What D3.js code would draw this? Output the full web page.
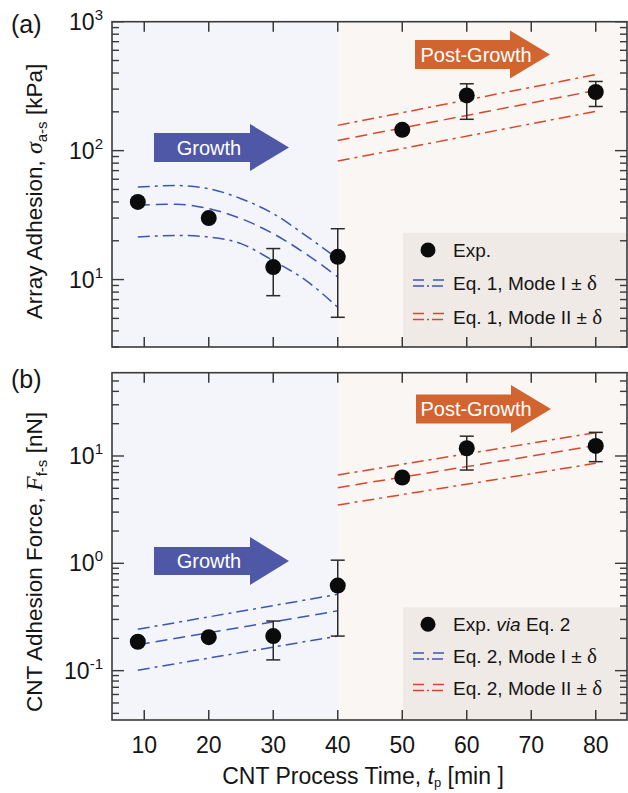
<!DOCTYPE html>
<html>
<head>
<meta charset="utf-8"/>
<script src="https://cdn.jsdelivr.net/npm/d3@7"></script>
<title>CNT adhesion vs process time</title>
<style type="text/css">
	body { margin: 0; background-color: white; }
	text { font-family: "Liberation Sans", Arial, Helvetica, sans-serif; fill: #151515; }
	.serif { font-family: "Liberation Serif", "DejaVu Serif", serif; }
</style>
</head>
<body>
<div id="chart"></div>
<script type="text/javascript">

// measured points, process time [min]
var expTime = [9, 20, 30, 40, 50, 60, 80];
// (a) array adhesion [kPa]
var adhesion   = [40, 30, 12.5, 15, 145, 268, 285];
var adhesionLo = [null, null, 7.5, 5.1, null, 175, 220];
var adhesionHi = [null, null, 17.4, 24.8, null, 330, 344];
// (b) CNT adhesion force [nN]
var force   = [0.186, 0.205, 0.21, 0.62, 6.3, 11.8, 12.4];
var forceLo = [null, null, 0.126, 0.21, null, 7.4, 8.85];
var forceHi = [null, null, 0.29, 1.07, null, 15.3, 16.6];

// model curves, Mode I (growth) and Mode II (post-growth)
var modeITimeA = [9, 15, 20, 25, 30, 35, 40];
var modeIA     = [37.7, 38.4, 35.5, 29.7, 22.7, 15.9, 10.5];
var modeIAUp   = [52.2, 53.6, 50.7, 42.4, 32.5, 22.0, 14.5];
var modeIALo   = [21.4, 22.0, 21.4, 19.0, 14.0, 9.9, 6.1];
var modeIITime = [40, 80];
var modeIIA    = [120, 293];
var modeIIAUp  = [157, 389];
var modeIIALo  = [83, 202];

var modeITimeB = [9, 40];
var modeIB     = [0.174, 0.361];
var modeIBUp   = [0.243, 0.514];
var modeIBLo   = [0.101, 0.21];
var modeIIB    = [5.07, 12.5];
var modeIIBUp  = [6.66, 16.5];
var modeIIBLo  = [3.49, 8.55];

var xTicks = [10, 20, 30, 40, 50, 60, 70, 80];
var growthEnd = 40;

var blueLine = "#3d56b4", redLine = "#d9472b";
var arrowBlue = "#4f58a7", arrowOrange = "#d2652f";
var frameCol = "#3a3a3a";
var dashed = "12,6", dashDot = "12,5,3,5";

var W = 628, H = 793;
var svg = d3.select("#chart").append("svg")
	.attr("width", W).attr("height", H);

var x = d3.scaleLinear().domain([5, 85]).range([112, 628]);

function zip(a, b) { return a.map(function(v, i) { return [v, b[i]]; }); }

var panels = [
	{
		letter: "(a)", top: 21.7, bottom: 347, domain: [3, 1000], exps: [1, 2, 3],
		vals: adhesion, lo: adhesionLo, hi: adhesionHi,
		modeI: [modeITimeA, modeIA, modeIAUp, modeIALo],
		modeII: [modeIITime, modeIIA, modeIIAUp, modeIIALo],
		arrows: [
			{x0: 154, xn: 250, xt: 289, yc: 147.5, bh: 14.5, hh: 23.5, col: arrowBlue, label: "Growth", tx: 209},
			{x0: 415, xn: 510, xt: 550, yc: 54.5, bh: 14.5, hh: 24, col: arrowOrange, label: "Post-Growth", tx: 476}
		],
		legTop: 232.7, rows: [250, 283, 316.5],
		legLabels: [["Exp."], ["Eq. 1, Mode I"], ["Eq. 1, Mode II"]],
		yTitle: [["Array Adhesion, ", ""], ["\u03c3", "it"], ["a-s", "sub"], [" [kPa]", ""]],
		yTitleC: 191.5
	},
	{
		letter: "(b)", top: 372.7, bottom: 720, domain: [0.0347, 59.7], exps: [-1, 0, 1],
		vals: force, lo: forceLo, hi: forceHi,
		modeI: [modeITimeB, modeIB, modeIBUp, modeIBLo],
		modeII: [modeIITime, modeIIB, modeIIBUp, modeIIBLo],
		arrows: [
			{x0: 154, xn: 250, xt: 289, yc: 561, bh: 14, hh: 24, col: arrowBlue, label: "Growth", tx: 209},
			{x0: 416, xn: 511, xt: 551, yc: 409, bh: 14.5, hh: 24, col: arrowOrange, label: "Post-Growth", tx: 476}
		],
		legTop: 607.3, rows: [624.3, 656, 687.5],
		legLabels: [["Exp. ", ["via", "it"], " Eq. 2"], ["Eq. 2, Mode I"], ["Eq. 2, Mode II"]],
		yTitle: [["CNT Adhesion Force, ", ""], ["F", "it"], ["f-s", "sub"], [" [nN]", ""]],
		yTitleC: 562
	}
];

panels.forEach(function(p, pi) {
	var y = d3.scaleLog().domain(p.domain).range([p.bottom, p.top]);
	var left = x.range()[0], right = 627, xg = x(growthEnd);
	var g = svg.append("g");

	// shaded regions
	g.append("rect").attr("x", left).attr("y", p.top).attr("width", xg - left)
		.attr("height", p.bottom - p.top).style("fill", "#f4f5fb");
	g.append("rect").attr("x", xg).attr("y", p.top).attr("width", right - xg)
		.attr("height", p.bottom - p.top).style("fill", "#faf6f3");
	// legend box
	g.append("rect").attr("x", 403).attr("y", p.legTop).attr("width", right - 403)
		.attr("height", p.bottom - p.legTop).style("fill", "#f0eae7");

	// arrows
	p.arrows.forEach(function(a) {
		var pts = [[a.x0, a.yc - a.bh], [a.xn, a.yc - a.bh], [a.xn, a.yc - a.hh], [a.xt, a.yc],
			[a.xn, a.yc + a.hh], [a.xn, a.yc + a.bh], [a.x0, a.yc + a.bh]];
		g.append("path").attr("d", "M" + pts.join("L") + "Z").style("fill", a.col);
		g.append("text").attr("x", a.tx).attr("y", a.yc + 7).attr("text-anchor", "middle")
			.style("font-size", "20px").style("fill", "white").text(a.label);
	});

	// model lines
	var line = d3.line().x(function(d) { return x(d[0]); }).y(function(d) { return y(d[1]); });
	var curved = d3.line().x(function(d) { return x(d[0]); }).y(function(d) { return y(d[1]); })
		.curve(d3.curveMonotoneX);
	[[p.modeI, blueLine, curved], [p.modeII, redLine, line]].forEach(function(m) {
		var set = m[0];
		[[set[1], dashed], [set[2], dashDot], [set[3], dashDot]].forEach(function(s) {
			g.append("path").attr("d", m[2](zip(set[0], s[0])))
				.style("fill", "none").style("stroke", m[1]).style("stroke-width", 1.5)
				.style("stroke-dasharray", s[1]);
		});
	});

	// error bars and points
	var pts = expTime.map(function(t, i) { return {t: t, v: p.vals[i], lo: p.lo[i], hi: p.hi[i]}; });
	var eb = g.selectAll(".eb").data(pts.filter(function(d) { return d.lo != null; })).enter().append("g");
	eb.append("line").attr("x1", function(d) { return x(d.t); }).attr("x2", function(d) { return x(d.t); })
		.attr("y1", function(d) { return y(d.lo); }).attr("y2", function(d) { return y(d.hi); });
	eb.append("line").attr("x1", function(d) { return x(d.t) - 7; }).attr("x2", function(d) { return x(d.t) + 7; })
		.attr("y1", function(d) { return y(d.lo); }).attr("y2", function(d) { return y(d.lo); });
	eb.append("line").attr("x1", function(d) { return x(d.t) - 7; }).attr("x2", function(d) { return x(d.t) + 7; })
		.attr("y1", function(d) { return y(d.hi); }).attr("y2", function(d) { return y(d.hi); });
	eb.selectAll("line").style("stroke", "#2a2a2a").style("stroke-width", 1.5);
	g.selectAll(".pt").data(pts).enter().append("circle")
		.attr("cx", function(d) { return x(d.t); }).attr("cy", function(d) { return y(d.v); })
		.attr("r", 8).style("fill", "#0b0b0b");

	// frame
	g.append("rect").attr("x", left).attr("y", p.top).attr("width", right - left)
		.attr("height", p.bottom - p.top).style("fill", "none")
		.style("stroke", frameCol).style("stroke-width", 1.6);

	// x ticks inward, top and bottom
	xTicks.forEach(function(t) {
		g.append("line").attr("x1", x(t)).attr("x2", x(t)).attr("y1", p.bottom).attr("y2", p.bottom - 10)
			.style("stroke", frameCol).style("stroke-width", 1.5);
		g.append("line").attr("x1", x(t)).attr("x2", x(t)).attr("y1", p.top).attr("y2", p.top + 10)
			.style("stroke", frameCol).style("stroke-width", 1.5);
		if (pi == 1) {
			g.append("text").attr("x", x(t)).attr("y", 753).attr("text-anchor", "middle")
				.style("font-size", "23px").text(t);
		}
	});

	// log ticks on left and right
	var e0 = Math.floor(Math.log10(p.domain[0])), e1 = Math.ceil(Math.log10(p.domain[1]));
	for (var e = e0; e <= e1; e++) {
		for (var m = 1; m <= 9; m++) {
			var v = m * Math.pow(10, e);
			if (v < p.domain[0] || v > p.domain[1] * 1.001) continue;
			var len = (m == 1) ? 12 : 7;
			g.append("line").attr("x1", left).attr("x2", left + len).attr("y1", y(v)).attr("y2", y(v))
				.style("stroke", frameCol).style("stroke-width", 1.4);
			g.append("line").attr("x1", right).attr("x2", right - len).attr("y1", y(v)).attr("y2", y(v))
				.style("stroke", frameCol).style("stroke-width", 1.4);
		}
	}
	p.exps.forEach(function(ex) {
		var t = g.append("text").attr("x", 103).attr("y", y(Math.pow(10, ex)) + 8)
			.attr("text-anchor", "end").style("font-size", "23px");
		t.append("tspan").text("10");
		t.append("tspan").attr("dy", -10).style("font-size", "15px").text(ex < 0 ? "-" + (-ex) : ex);
	});

	// legend
	g.append("circle").attr("cx", 428).attr("cy", p.rows[0]).attr("r", 7.5).style("fill", "#0b0b0b");
	[blueLine, redLine].forEach(function(c, k) {
		var ry = p.rows[k + 1];
		g.append("line").attr("x1", 413).attr("x2", 444).attr("y1", ry - 3).attr("y2", ry - 3)
			.style("stroke", c).style("stroke-width", 1.5).style("stroke-dasharray", "11,9");
		g.append("line").attr("x1", 413).attr("x2", 444).attr("y1", ry + 3).attr("y2", ry + 3)
			.style("stroke", c).style("stroke-width", 1.5).style("stroke-dasharray", "11,3,2,3");
	});
	p.legLabels.forEach(function(parts, k) {
		var t = g.append("text").attr("x", 453).attr("y", p.rows[k] + 7).style("font-size", "19px");
		parts.forEach(function(s) {
			if (Array.isArray(s)) t.append("tspan").style("font-style", "italic").text(s[0]);
			else t.append("tspan").text(s);
		});
		if (k > 0) {
			t.append("tspan").text(" \u00b1 ");
			t.append("tspan").attr("class", "serif").style("font-size", "21px").text("\u03b4");
		}
	});

	// panel letter
	g.append("text").attr("x", 11).attr("y", p.top + 11 + (pi == 0 ? 0 : 4)).style("font-size", "25px").text(p.letter);

	// y title
	var yt = g.append("text").attr("transform", "translate(42," + p.yTitleC + ") rotate(-90)")
		.attr("text-anchor", "middle").style("font-size", "22.5px");
	p.yTitle.forEach(function(s) {
		var sp = yt.append("tspan").text(s[0]);
		if (s[1] == "it") sp.attr("class", "serif").style("font-style", "italic").style("font-size", "24px");
		if (s[1] == "sub") sp.attr("dy", 5).style("font-size", "15px");
		if (s[0].charAt(0) == " " && s[0].indexOf("[") > 0) sp.attr("dy", -5);
	});
});

// x axis title
var xt = svg.append("text").attr("x", 363).attr("y", 784).attr("text-anchor", "middle")
	.style("font-size", "23px");
xt.append("tspan").text("CNT Process Time, ");
xt.append("tspan").style("font-style", "italic").text("t");
xt.append("tspan").attr("dy", 3).style("font-size", "13px").text("p");
xt.append("tspan").attr("dy", -3).text(" [min ]");

</script>
</body>
</html>
